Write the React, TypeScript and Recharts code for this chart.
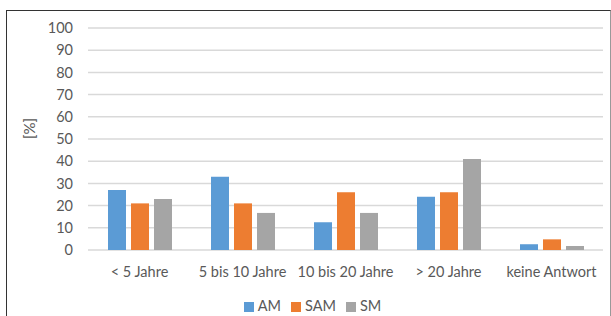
import React from 'react';
import { BarChart, Bar, XAxis, YAxis, CartesianGrid, Legend } from 'recharts';

const categories = ['< 5 Jahre', '5 bis 10 Jahre', '10 bis 20 Jahre', '> 20 Jahre', 'keine Antwort'];
const amValues = [27, 33, 12.5, 24, 2.6];
const samValues = [21, 21, 26, 26, 4.8];
const smValues = [23, 16.7, 16.7, 41, 1.8];
const yTicks = [0, 10, 20, 30, 40, 50, 60, 70, 80, 90, 100];

const data = categories.map((name, i) => ({
  name,
  AM: amValues[i],
  SAM: samValues[i],
  SM: smValues[i],
}));

const font = 'Lato, "Open Sans", sans-serif';
const textColor = '#595959';

export default function App() {
  return (
    <div style={{ position: 'fixed', left: 0, top: 0, width: 611, height: 316, background: '#fff', overflow: 'hidden', fontFamily: font }}>
      <div
        style={{
          position: 'absolute',
          left: 6,
          top: 10,
          width: 603,
          height: 320,
          borderLeft: '1.5px solid #333',
          borderTop: '1.5px solid #333',
          borderRight: '1.5px solid #999',
        }}
      />
      <div style={{ position: 'absolute', left: 0, top: 0 }}>
        <BarChart
          width={611}
          height={316}
          data={data}
          margin={{ top: 28, right: 8, bottom: 2, left: 0 }}
          barCategoryGap={20}
          barGap={5}
        >
          <CartesianGrid vertical={false} stroke="#d9d9d9" strokeWidth={1.5} />
          <XAxis
            dataKey="name"
            axisLine={false}
            tickLine={false}
            tickMargin={11}
            height={47}
            interval={0}
            tick={{ fill: textColor, fontSize: 14.5, fontFamily: font }}
          />
          <YAxis
            width={88}
            domain={[0, 100]}
            ticks={yTicks}
            interval={0}
            axisLine={false}
            tickLine={false}
            tickMargin={9}
            tick={{ fill: textColor, fontSize: 14.5, fontFamily: font }}
            label={{ value: '[%]', angle: -90, position: 'insideLeft', offset: 30, fill: textColor, fontSize: 15, fontFamily: font }}
          />
          <Legend
            verticalAlign="bottom"
            align="center"
            iconType="square"
            iconSize={10}
            wrapperStyle={{ fontSize: 14.5, fontFamily: font, transform: 'translateX(16px)' }}
            formatter={(value: string) => <span style={{ color: textColor }}>{value}</span>}
          />
          <Bar dataKey="AM" fill="#5b9bd5" barSize={18} isAnimationActive={false} />
          <Bar dataKey="SAM" fill="#ed7d31" barSize={18} isAnimationActive={false} />
          <Bar dataKey="SM" fill="#a5a5a5" barSize={18} isAnimationActive={false} />
        </BarChart>
      </div>
    </div>
  );
}
